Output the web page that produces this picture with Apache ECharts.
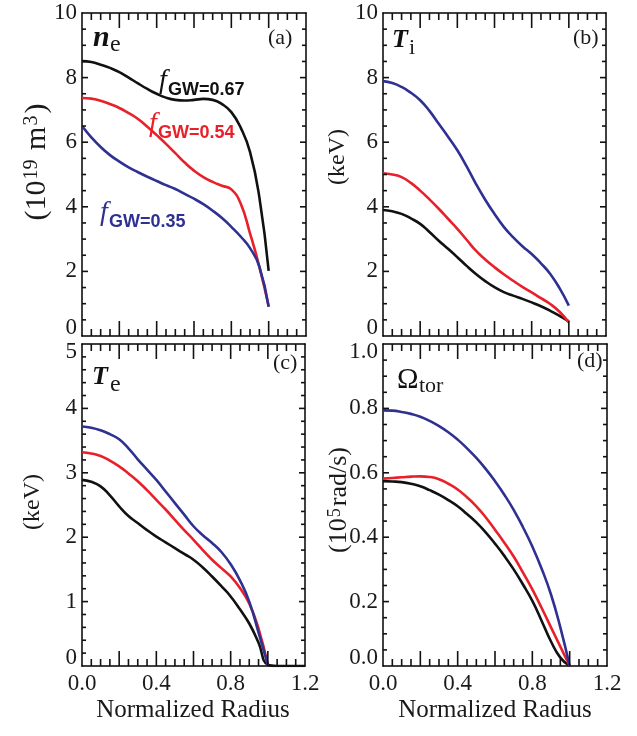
<!DOCTYPE html>
<html>
<head>
<meta charset="utf-8">
<script src="https://cdn.jsdelivr.net/npm/echarts@6/dist/echarts.min.js"></script>
<style>
html,body{margin:0;padding:0;background:#fff;}
#chart{width:637px;height:736px;}
</style>
</head>
<body>
<div id="chart"></div>
<script>
// Normalized radius grid (0 .. 1.0)
const radius = [0,0.05,0.1,0.15,0.2,0.25,0.3,0.35,0.4,0.45,0.5,0.55,0.6,0.65,0.7,0.75,0.8,0.85,0.9,0.95,1.0];
const radiusExt = [1.05,1.1,1.15,1.2];

// (a) electron density ne (10^19 m^-3)
const neBlack = [8.51,8.48,8.40,8.30,8.17,8.00,7.82,7.65,7.50,7.38,7.31,7.29,7.31,7.34,7.31,7.18,6.93,6.45,5.70,4.30,2.02];
const neRed   = [7.37,7.35,7.28,7.18,7.06,6.90,6.72,6.48,6.22,5.95,5.66,5.37,5.12,4.92,4.77,4.65,4.54,4.10,3.18,2.15,0.92];
const neBlue  = [6.50,6.15,5.85,5.60,5.40,5.22,5.07,4.93,4.80,4.67,4.55,4.40,4.25,4.08,3.88,3.65,3.38,3.08,2.72,2.15,0.90];
// (b) ion temperature Ti (keV)
const tiBlack = [3.90,3.86,3.78,3.64,3.47,3.22,2.95,2.70,2.44,2.17,1.92,1.70,1.51,1.36,1.25,1.15,1.04,0.92,0.78,0.62,0.45];
const tiRed   = [5.04,5.00,4.92,4.74,4.50,4.23,3.94,3.63,3.32,2.98,2.64,2.37,2.13,1.91,1.71,1.52,1.35,1.17,0.99,0.75,0.42];
const tiBlue  = [7.89,7.83,7.71,7.53,7.30,6.97,6.57,6.17,5.75,5.25,4.71,4.22,3.78,3.38,3.06,2.78,2.54,2.25,1.92,1.48,0.94];
// (c) electron temperature Te (keV)
const teBlack = [2.89,2.86,2.79,2.65,2.48,2.33,2.22,2.11,2.01,1.92,1.83,1.74,1.65,1.53,1.39,1.24,1.08,0.88,0.66,0.36,0.02];
const teBlackEdge = [0,0,0,0];
const teRed   = [3.32,3.30,3.26,3.19,3.10,2.99,2.87,2.73,2.58,2.43,2.27,2.11,1.96,1.80,1.65,1.52,1.39,1.21,0.97,0.58,0.02];
const teBlue  = [3.72,3.70,3.66,3.60,3.52,3.38,3.21,3.05,2.89,2.71,2.53,2.35,2.17,2.03,1.91,1.77,1.58,1.33,1.00,0.52,0.02];
// (d) toroidal rotation (10^5 rad/s)
const omBlack = [0.574,0.573,0.571,0.566,0.558,0.546,0.532,0.515,0.496,0.472,0.446,0.415,0.380,0.342,0.300,0.253,0.202,0.140,0.076,0.026,0.0];
const omRed   = [0.582,0.584,0.586,0.588,0.589,0.587,0.580,0.566,0.548,0.524,0.496,0.462,0.423,0.383,0.340,0.290,0.238,0.180,0.120,0.060,0.0];
const omBlue  = [0.794,0.793,0.789,0.783,0.774,0.761,0.745,0.726,0.703,0.676,0.646,0.612,0.574,0.532,0.485,0.431,0.371,0.302,0.222,0.120,0.0];

// frame tick positions (drawn on all four sides, pointing inwards)
const xMajorTicks = [0.2,0.4,0.6,0.8,1.0];
const xMinorTicks = [0.05,0.1,0.15,0.25,0.3,0.35,0.45,0.5,0.55,0.65,0.7,0.75,0.85,0.9,0.95,1.05,1.1,1.15];
const yMajor10 = [2,4,6,8];
const yMinor10 = [0.5,1,1.5,2.5,3,3.5,4.5,5,5.5,6.5,7,7.5,8.5,9,9.5];
const yMajor5 = [1,2,3,4];
const yMinor5 = [0.2,0.4,0.6,0.8,1.2,1.4,1.6,1.8,2.2,2.4,2.6,2.8,3.2,3.4,3.6,3.8,4.2,4.4,4.6,4.8];
const yMajor1 = [0.2,0.4,0.6,0.8];
const yMinor1 = [0.05,0.1,0.15,0.25,0.3,0.35,0.45,0.5,0.55,0.65,0.7,0.75,0.85,0.9,0.95];

const C_BLACK = '#111111', C_RED = '#e8202a', C_BLUE = '#2e3192';
const SERIF = "'Liberation Serif','Times New Roman',serif";
const SANS = "'Liberation Sans',Arial,sans-serif";
function pairs(xs, ys){ return xs.map((x,i)=>[x, ys[i]]); }

const grids = [
  {left:82, top:13, width:224, height:323},
  {left:383, top:13, width:223, height:323},
  {left:82, top:344, width:223, height:322},
  {left:383, top:344, width:224, height:322}
];
const labelRich = {
  up:{fontFamily:SERIF, fontSize:23, color:'#1a1a1a', padding:[0,0,16,0]},
  dn:{fontFamily:SERIF, fontSize:23, color:'#1a1a1a', padding:[16,0,0,0]}
};
const yCfg = [
  {max:10, interval:2, fmt: v=> v===0 ? '{up|0}' : String(Math.round(v)), major:yMajor10, minor:yMinor10},
  {max:10, interval:2, fmt: v=> v===0 ? '{up|0}' : String(Math.round(v)), major:yMajor10, minor:yMinor10},
  {max:5, interval:1, fmt: v=> v===0 ? '{up|0}' : (v===5 ? '{dn|5}' : String(Math.round(v))), major:yMajor5, minor:yMinor5},
  {max:1, interval:0.2, fmt: v=> v===0 ? '{up|0.0}' : (Math.abs(v-1)<1e-9 ? '{dn|1.0}' : v.toFixed(1)), major:yMajor1, minor:yMinor1}
];
const xAxes = [], yAxes = [];
for (let g=0; g<4; g++){
  ['bottom','top'].forEach((pos,k)=>{
    xAxes.push({
      type:'value', gridIndex:g, min:0, max:1.2, interval:0.2, position:pos,
      axisLine:{show:true, onZero:false, lineStyle:{color:'#000', width:1.5}},
      axisTick:{show:false}, minorTick:{show:false},
      splitLine:{show:false}, minorSplitLine:{show:false},
      axisLabel:{show: g>=2 && k===0, margin:6, color:'#1a1a1a', fontFamily:SERIF, fontSize:23,
        formatter: v => (Math.round(v*10)%4===0 ? v.toFixed(1) : '')}
    });
  });
  ['left','right'].forEach((pos,k)=>{
    const c = yCfg[g];
    yAxes.push({
      type:'value', gridIndex:g, min:0, max:c.max, interval:c.interval, position:pos,
      axisLine:{show:true, onZero:false, lineStyle:{color:'#000', width:1.5}},
      axisTick:{show:false}, minorTick:{show:false},
      splitLine:{show:false}, minorSplitLine:{show:false},
      axisLabel:{show: k===0, margin:5, color:'#1a1a1a', fontFamily:SERIF, fontSize:23, formatter:c.fmt, rich:labelRich}
    });
  });
}

function line(g, data, color){
  return {type:'line', xAxisIndex:g*2, yAxisIndex:g*2, data, smooth:true, showSymbol:false,
    lineStyle:{color, width:2.6}, itemStyle:{color}, silent:true, animation:false, z:3};
}

// frame tick marks as small filled rectangles, positioned through the grid axes (api.coord)
function tickSeries(g){
  const c = yCfg[g];
  const data = [];
  xMajorTicks.forEach(v=>data.push([v, 0]));
  xMinorTicks.forEach(v=>data.push([v, 1]));
  c.major.forEach(v=>data.push([v, 2]));
  c.minor.forEach(v=>data.push([v, 3]));
  const st = {fill:'#111111'};
  const W = 1.6;
  return {
    type:'custom', xAxisIndex:g*2, yAxisIndex:g*2, data, silent:true, animation:false, z:6, clip:false,
    renderItem:(params, api)=>{
      const v = api.value(0), k = api.value(1);
      let ch;
      if (k < 2) {
        const len = k===0 ? 15 : 7;
        const b = api.coord([v, 0]), t = api.coord([v, c.max]);
        ch = [
          {type:'rect', shape:{x:b[0]-W/2, y:b[1]-len, width:W, height:len}, style:st},
          {type:'rect', shape:{x:t[0]-W/2, y:t[1], width:W, height:len}, style:st}
        ];
      } else {
        const len = k===2 ? 6 : 4;
        const l = api.coord([0, v]), r = api.coord([1.2, v]);
        ch = [
          {type:'rect', shape:{x:l[0], y:l[1]-W/2, width:len, height:W}, style:st},
          {type:'rect', shape:{x:r[0]-len, y:r[1]-W/2, width:len, height:W}, style:st}
        ];
      }
      return {type:'group', children:ch};
    }
  };
}

const series = [
  line(0, pairs(radius, neBlack), C_BLACK),
  line(0, pairs(radius, neRed), C_RED),
  line(0, pairs(radius, neBlue), C_BLUE),
  line(1, pairs(radius, tiBlack), C_BLACK),
  line(1, pairs(radius, tiRed), C_RED),
  line(1, pairs(radius, tiBlue), C_BLUE),
  line(2, pairs(radius.concat(radiusExt), teBlack.concat(teBlackEdge)), C_BLACK),
  line(2, pairs(radius, teRed), C_RED),
  line(2, pairs(radius, teBlue), C_BLUE),
  line(3, pairs(radius, omBlack), C_BLACK),
  line(3, pairs(radius, omRed), C_RED),
  line(3, pairs(radius, omBlue), C_BLUE),
  tickSeries(0), tickSeries(1), tickSeries(2), tickSeries(3)
];

function txt(x, baseline, text, font, size, color){
  return {type:'text', x:x, y:baseline - 0.3*size, z:10, silent:true,
    style:{text, fill:color||'#1a1a1a', font: font.replace('%s', size+'px'), textAlign:'left', textVerticalAlign:'middle', verticalAlign:'middle'}};
}
function vtitle(x, y, text, size, supSize){
  return {type:'text', x:x, y:y, rotation:Math.PI/2, z:10, silent:true,
    style:{text, fill:'#1a1a1a', font:size+'px '+SERIF, textAlign:'center', textVerticalAlign:'middle', align:'center', verticalAlign:'middle',
      rich:{sup:{fontSize:supSize, fontFamily:SERIF, fill:'#1a1a1a', verticalAlign:'top', lineHeight:size, padding:[0,2,0,1]}}}};
}
const graphic = [
  txt(93, 47, 'n', 'italic bold %s '+SERIF, 30, '#111'),
  txt(110, 52, 'e', '%s '+SERIF, 24, '#1a1a1a'),
  txt(268, 45, '(a)', '%s '+SERIF, 22),
  txt(392, 48, 'T', 'italic bold %s '+SERIF, 26, '#111'),
  txt(409, 55, 'i', '%s '+SERIF, 22),
  txt(573, 45, '(b)', '%s '+SERIF, 22),
  txt(92, 385, 'T', 'italic bold %s '+SERIF, 26, '#111'),
  txt(110, 392, 'e', '%s '+SERIF, 24),
  txt(273, 370, '(c)', '%s '+SERIF, 22),
  txt(397, 389, 'Ω', '%s '+SERIF, 29, '#111'),
  txt(419, 393, 'tor', '%s '+SERIF, 22),
  txt(577, 368, '(d)', '%s '+SERIF, 22),
  txt(159, 89, 'f', 'italic %s '+SERIF, 28, C_BLACK),
  txt(168, 95, 'GW=0.67', 'bold %s '+SANS, 18, C_BLACK),
  txt(149, 132, 'f', 'italic %s '+SERIF, 28, C_RED),
  txt(158, 138, 'GW=0.54', 'bold %s '+SANS, 18, C_RED),
  txt(100, 221, 'f', 'italic %s '+SERIF, 28, C_BLUE),
  txt(109, 227, 'GW=0.35', 'bold %s '+SANS, 18, C_BLUE),
  vtitle(37, 162, '(10{sup|19} m{sup|3})', 30, 20),
  vtitle(338, 157, '(keV)', 24, 16),
  vtitle(33, 502, '(keV)', 24, 16),
  vtitle(339, 500, '(10{sup|5}rad/s)', 26, 18),
  {type:'text', x:193, y:710, z:10, silent:true,
    style:{text:'Normalized Radius', fill:'#1a1a1a', font:'25px '+SERIF, textAlign:'center', textVerticalAlign:'middle', align:'center', verticalAlign:'middle'}},
  {type:'text', x:495, y:710, z:10, silent:true,
    style:{text:'Normalized Radius', fill:'#1a1a1a', font:'25px '+SERIF, textAlign:'center', textVerticalAlign:'middle', align:'center', verticalAlign:'middle'}}
];
const chart = echarts.init(document.getElementById('chart'), null, {renderer:'canvas'});
chart.setOption({animation:false, backgroundColor:'#fff', grid: grids, xAxis: xAxes, yAxis: yAxes, series, graphic});
</script>
</body>
</html>
